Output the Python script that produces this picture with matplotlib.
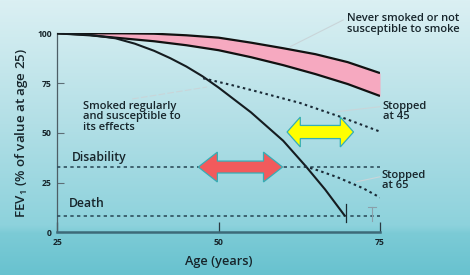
import numpy as np
import matplotlib
matplotlib.use("Agg")
import matplotlib.pyplot as plt
from matplotlib.patches import Polygon
from matplotlib.colors import LinearSegmentedColormap

plt.rcParams['font.family'] = ['Open Sans', 'DejaVu Sans']
plt.rcParams['mathtext.fontset'] = 'custom'
plt.rcParams['mathtext.rm'] = 'Open Sans:semibold'
plt.rcParams['mathtext.it'] = 'Open Sans:semibold'

# ---- data ----
never_age = [25, 30, 35, 40, 45, 50, 55, 60, 65, 70, 75]
never_upper = [100, 100, 100, 99.8, 99, 97.8, 95.3, 92.5, 89.5, 85.5, 80]
never_lower = [100, 99, 97.5, 96, 94, 91.5, 88, 84, 79.5, 74.5, 68.5]

smoker_age = [25, 30, 34, 37, 40, 42.5, 45, 47.5, 50, 55, 60, 63.5, 66.5, 69.5]
smoker_val = [100, 99.2, 97.5, 94.8, 91.2, 87.5, 83.3, 78.4, 72.7, 60.3, 46, 33.2, 21.5, 8.5]

stop45_age = [47.6, 52, 56, 62.6, 68.8, 75]
stop45_val = [77.4, 74, 70.7, 65, 58.1, 50.6]

stop65_age = [63.3, 65.5, 68.3, 72.4, 75]
stop65_val = [33.2, 31, 27.8, 22.1, 17.5]

disability_level = 33
death_level = 8.3

x_ticks = [25, 50, 75]
y_ticks = [0, 25, 50, 75, 100]

TXT = '#17252b'
W = 'semibold'

fig = plt.figure(figsize=(4.7, 2.75), dpi=100)

# background gradient
bg = fig.add_axes([0, 0, 1, 1], zorder=-10)
cmap = LinearSegmentedColormap.from_list('bg', [(0, '#dbf0f3'), (0.45, '#b2dfe6'),
                                               (0.82, '#8dd2dc'), (0.85, '#7ccbd6'),
                                               (1, '#68c2cf')])
grad = np.linspace(0, 1, 256).reshape(-1, 1)
bg.imshow(grad, aspect='auto', cmap=cmap, extent=[0, 1, 0, 1], origin='upper')
bg.set_axis_off()

ax = fig.add_axes([57.3/470, 1-232.3/275, (380-57.3)/470, (232.3-33.3)/275])
ax.patch.set_alpha(0)
ax.set_xlim(25, 75)
ax.set_ylim(0, 100)

# pink band
ax.fill_between(never_age, never_lower, never_upper, color='#f6a9c0', zorder=2, lw=0)
ax.plot(never_age, never_upper, color='#111111', lw=1.6, zorder=3, solid_capstyle='butt')
ax.plot(never_age, never_lower, color='#111111', lw=1.6, zorder=3, solid_capstyle='butt')

# smoker
ax.plot(smoker_age, smoker_val, color='#151c20', lw=1.5, zorder=4)

# stopped
ax.plot(stop45_age, stop45_val, color='#1a2a36', lw=1.5, ls=(0, (1.2, 1.6)), zorder=4)
ax.plot(stop65_age, stop65_val, color='#1a2a36', lw=1.5, ls=(0, (1.2, 1.6)), zorder=4)

# disability / death lines
ax.plot([25, 75], [disability_level]*2, color='#2f4f5e', lw=1.2, ls=(0, (2, 2)), zorder=3)
ax.plot([25, 75], [death_level]*2, color='#2f4f5e', lw=1.2, ls=(0, (2, 2)), zorder=3)

# markers near death line
ax.plot([69.8, 69.8], [14.2, 5.0], color='#1a2a30', lw=0.9, zorder=5)
ax.plot([73.8, 73.8], [12.5, 5.5], color='#8aa0aa', lw=0.8, zorder=5)
ax.plot([73.2, 74.4], [12.5, 12.5], color='#8aa0aa', lw=0.8, zorder=5)

# leader lines
lc = '#c9d5d9'
ax.plot([69.3, 61.1], [106.7, 93.3], color=lc, lw=0.8, clip_on=False, zorder=1)
ax.plot([36.6, 48.2], [67, 73], color=lc, lw=0.8, ls=(0, (6, 2)), clip_on=False, zorder=1)
ax.plot([75, 68.3], [63.1, 60.6], color=lc, lw=0.8, clip_on=False, zorder=1)
ax.plot([75, 71.4], [27.9, 25.4], color=lc, lw=0.8, clip_on=False, zorder=1)


def double_arrow(x0, x1, yc, head_h, shaft_h, head_l, fc, ec):
    pts = [(x0, yc), (x0 + head_l, yc + head_h), (x0 + head_l, yc + shaft_h),
           (x1 - head_l, yc + shaft_h), (x1 - head_l, yc + head_h), (x1, yc),
           (x1 - head_l, yc - head_h), (x1 - head_l, yc - shaft_h),
           (x0 + head_l, yc - shaft_h), (x0 + head_l, yc - head_h)]
    ax.add_patch(Polygon(pts, closed=True, fc=fc, ec=ec, lw=0.9, zorder=6, joinstyle='miter'))


double_arrow(46.85, 59.9, 32.8, 7.5, 3.0, 2.95, '#f25a5c', '#35aeb6')
double_arrow(60.6, 70.9, 50.4, 7.5, 3.3, 2.05, '#ffff00', '#35aeb6')

# texts
fs = 8.0
ax.text(69.9, 110.0, 'Never smoked or not\nsusceptible to smoke', fontsize=fs, color=TXT,
        va='top', ha='left', linespacing=1.0, clip_on=False, fontweight=W)
ax.text(29.0, 66.0, 'Smoked regularly\nand susceptible to\nits effects', fontsize=fs, color=TXT,
        va='top', ha='left', linespacing=0.92, fontweight=W)
ax.text(75.4, 66.0, 'Stopped\nat 45', fontsize=fs, color=TXT, va='top', ha='left',
        linespacing=0.92, clip_on=False, fontweight=W)
ax.text(75.3, 31.3, 'Stopped\nat 65', fontsize=fs, color=TXT, va='top', ha='left',
        linespacing=0.92, clip_on=False, fontweight=W)
ax.text(27.3, 37.8, 'Disability', fontsize=8.8, color=TXT, va='center', ha='left', fontweight=W)
ax.text(26.8, 14.3, 'Death', fontsize=8.8, color=TXT, va='center', ha='left', fontweight=W)

# axes styling
for s in ['top', 'right']:
    ax.spines[s].set_visible(False)
ax.spines['left'].set_color('#4d5e66')
ax.spines['left'].set_linewidth(0.9)
ax.spines['bottom'].set_color('#3d6a78')
ax.spines['bottom'].set_linewidth(1.8)
ax.set_xticks(x_ticks)
ax.set_yticks(y_ticks)
ax.set_xticklabels([str(v) for v in x_ticks])
ax.set_yticklabels([str(v) for v in y_ticks])
ax.tick_params(axis='y', direction='in', length=5, width=0.8, color='#5d6e76',
               labelsize=6.2, labelcolor=TXT, pad=4)
ax.tick_params(axis='x', direction='in', length=7, width=0.9, color='#2a3a42',
               labelsize=6.2, labelcolor=TXT, pad=4)
for lab in ax.get_xticklabels() + ax.get_yticklabels():
    lab.set_fontweight('bold')

ax.set_xlabel('Age (years)', fontsize=9.2, color=TXT, labelpad=6, fontweight=W)
ax.set_ylabel('FEV$_1$ (% of value at age 25)', fontsize=9.6, color=TXT, labelpad=5,
              fontweight=W)

fig.savefig('out.png', dpi=100)
